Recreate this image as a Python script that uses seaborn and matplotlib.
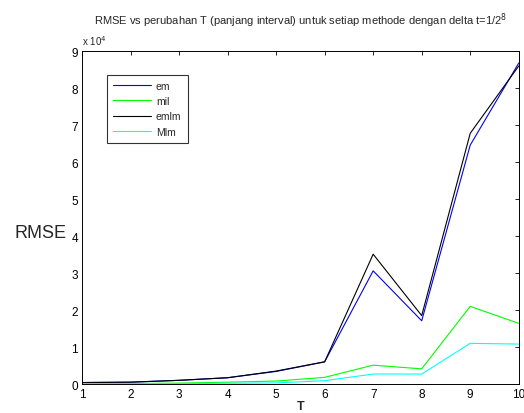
import matplotlib
matplotlib.use("Agg")
import matplotlib.pyplot as plt
import seaborn as sns
import pandas as pd
from matplotlib.ticker import FuncFormatter

T = [1, 2, 3, 4, 5, 6, 7, 8, 9, 10]
em = [400, 500, 1000, 1700, 3400, 6000, 30600, 17100, 64600, 86800]
mil = [100, 150, 250, 500, 800, 1800, 5100, 4100, 21000, 16400]
emlm = [400, 500, 1000, 1700, 3500, 6000, 35100, 18500, 67800, 86000]
Mlm = [50, 80, 120, 200, 300, 900, 2700, 2700, 11000, 10800]
series_names = ["em", "mil", "emlm", "Mlm"]
colors = ["#0000ff", "#00ff00", "#000000", "#00ffff"]

sns.set_style("white")
plt.rcParams["font.family"] = ["Liberation Sans", "DejaVu Sans"]

df = pd.DataFrame({"T": T, "em": em, "mil": mil, "emlm": emlm, "Mlm": Mlm})
long = df.melt(id_vars="T", var_name="method", value_name="RMSE")

fig = plt.figure(figsize=(5.24, 4.14), dpi=100)
ax = fig.add_axes([0.1565, 0.070, 0.8335, 0.804])
sns.lineplot(data=long, x="T", y="RMSE", hue="method", hue_order=series_names,
             palette=colors, linewidth=0.8, ax=ax, legend=True)

ax.set_xlim(1, 10)
ax.set_ylim(0, 90000)
ax.set_xticks(T)
ax.set_yticks([i * 10000 for i in range(10)])
ax.yaxis.set_major_formatter(FuncFormatter(lambda v, p: f"{v/1e4:.0f}"))
ax.tick_params(direction="in", length=3, labelsize=8.5, width=0.6, top=True, right=True,
               colors="black", pad=3)
for s in ax.spines.values():
    s.set_visible(True)
    s.set_color("black")
    s.set_linewidth(0.7)

ax.set_xlabel("T", fontsize=9, fontweight="bold", labelpad=0)
ax.set_ylabel("RMSE", fontsize=13, rotation=0, labelpad=0)
ax.yaxis.set_label_coords(-0.095, 0.43)
ax.set_title("RMSE vs perubahan T (panjang interval) untuk setiap methode dengan delta t=1/2$^{8}$",
             fontsize=8, pad=20)
ax.text(0.0, 1.012, "x 10$^{4}$", transform=ax.transAxes, fontsize=7, va="bottom", ha="left")

leg = ax.legend(loc="upper left", bbox_to_anchor=(0.045, 0.945), fontsize=7.5, frameon=True,
                fancybox=False, edgecolor="black", handlelength=3.6, borderpad=0.6,
                labelspacing=0.5, handletextpad=0.5)
leg.get_frame().set_linewidth(0.8)

fig.savefig("out.png", dpi=100)
